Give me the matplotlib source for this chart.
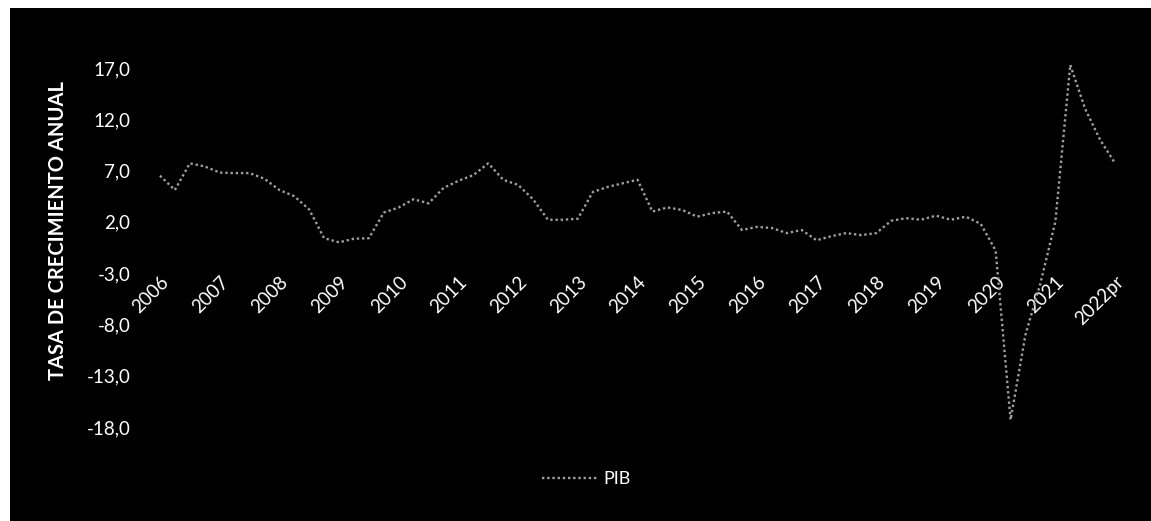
import matplotlib
matplotlib.use("Agg")
import matplotlib.pyplot as plt
from matplotlib.patches import Rectangle
from matplotlib.ticker import FuncFormatter
import numpy as np


YEAR_LABELS = ["2006", "2007", "2008", "2009", "2010", "2011", "2012", "2013",
               "2014", "2015", "2016", "2017", "2018", "2019", "2020", "2021",
               "2022pr"]

# variacion anual trimestral del PIB, 2006T1 - 2022T1
PIB = [
    6.5, 5.1, 7.7, 7.4,
    6.8, 6.75, 6.75, 6.2,
    5.1, 4.5, 3.2, 0.4,
    0.0, 0.35, 0.4, 2.9,
    3.4, 4.2, 3.8, 5.3,
    6.0, 6.55, 7.7, 6.1,
    5.6, 4.2, 2.2, 2.2,
    2.3, 4.9, 5.4, 5.75,
    6.1, 3.0, 3.4, 3.15,
    2.5, 2.85, 3.0, 1.2,
    1.5, 1.4, 0.9, 1.2,
    0.2, 0.6, 0.9, 0.7,
    0.9, 2.1, 2.35, 2.2,
    2.6, 2.2, 2.5, 1.8,
    -0.8, -17.3, -9.0, -4.0,
    2.0, 17.3, 13.0, 10.0,
    7.7,
]
Y_TICKS = [-18, -13, -8, -3, 2, 7, 12, 17]

plt.rcParams["font.family"] = ["Lato", "DejaVu Sans"]

W, H = 1151, 521
fig = plt.figure(figsize=(W / 100, H / 100), dpi=100)
fig.patch.set_facecolor("black")
# bordes blancos del recorte original
fig.add_artist(Rectangle((0, 0), 10 / W, 1, transform=fig.transFigure,
                         facecolor="white", edgecolor="none"))
fig.add_artist(Rectangle((0, 1 - 8 / H), 1, 8 / H, transform=fig.transFigure,
                         facecolor="white", edgecolor="none"))

ax = fig.add_axes([152.5 / W, 0.1708, 970 / W, 0.7184])
ax.set_facecolor("black")
for side in ["top", "right", "left", "bottom"]:
    ax.spines[side].set_visible(False)
ax.spines["bottom"].set_position(("data", -3))

x = np.arange(len(PIB))
ax.plot(x, PIB, color="#a0a0a0", lw=1.7, linestyle=(0, (1, 1.2)),
        label="PIB", clip_on=False)

ax.set_xlim(-0.5, len(PIB) - 0.5)
ax.set_ylim(-18.5, 18)
ax.set_yticks(Y_TICKS)
ax.yaxis.set_major_formatter(FuncFormatter(lambda v, p: f"{v:.1f}".replace(".", ",")))
ax.set_xticks(x[::4])
ax.set_xticklabels(YEAR_LABELS)
ax.tick_params(axis="y", length=0, pad=16, labelsize=13.5, labelcolor="white")
ax.tick_params(axis="x", length=0, pad=0, labelsize=13.5, labelcolor="white")
plt.setp(ax.get_xticklabels(), rotation=45, ha="right", va="top",
         rotation_mode="anchor")

fig.text(58 / W, 1 - 230 / H, "TASA DE CRECIMIENTO ANUAL", rotation=90,
         ha="center", va="center", color="white", fontsize=14.5,
         fontweight="bold")

fig.legend(loc="center", bbox_to_anchor=(586 / W, 1 - 479 / H), frameon=False,
           labelcolor="white", fontsize=13, handlelength=3.2, handletextpad=0.2)

fig.savefig("out.png", dpi=100, facecolor=fig.get_facecolor())
